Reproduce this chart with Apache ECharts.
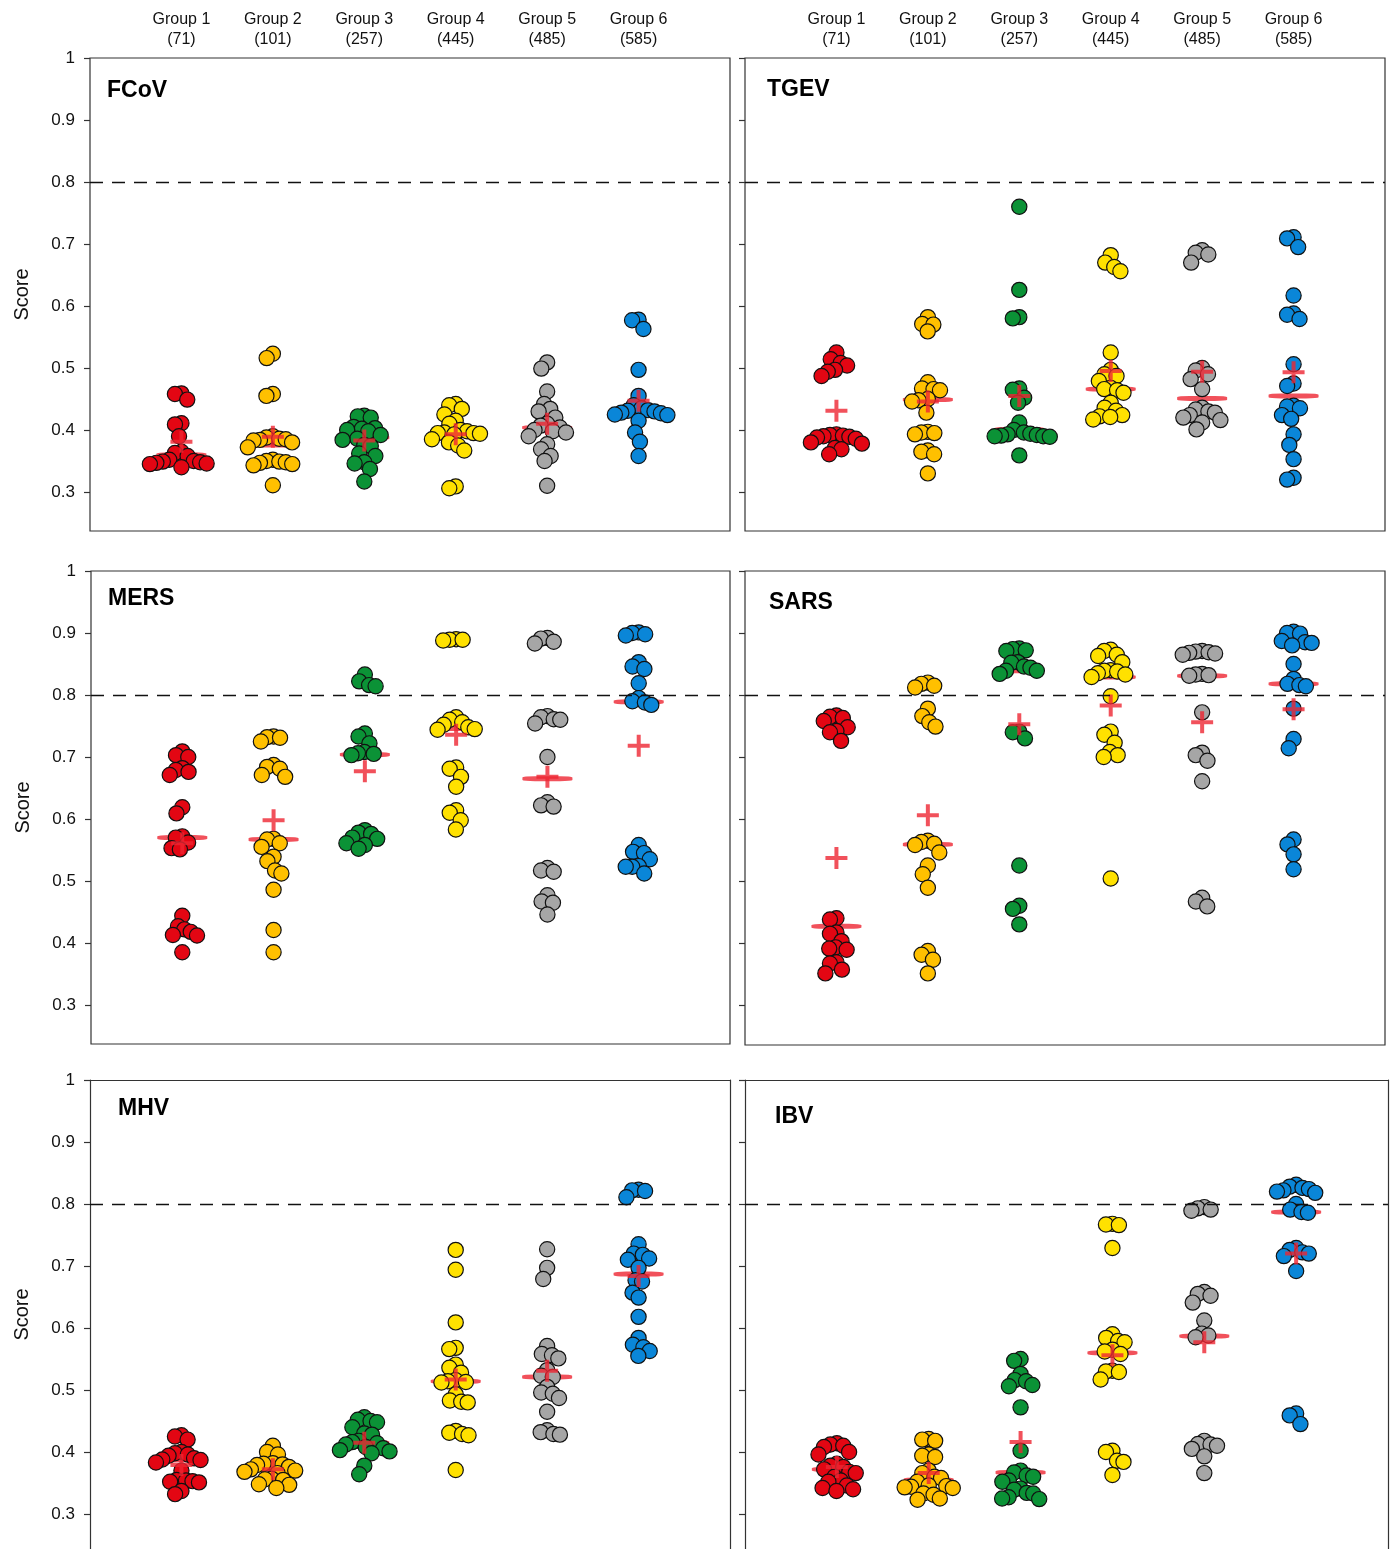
<!DOCTYPE html>
<html>
<head>
<meta charset="utf-8">
<title>Scores by group</title>
<script src="https://cdn.jsdelivr.net/npm/echarts@6/dist/echarts.min.js"></script>
<style>
  html, body { margin: 0; padding: 0; background: #fff; }
  #chart { width: 1394px; height: 1549px; }
</style>
</head>
<body>
<div id="chart"></div>
<script>
// ---- data ----
const groupLabels = ['Group 1', 'Group 2', 'Group 3', 'Group 4', 'Group 5', 'Group 6'];
const groupSizes = [71, 101, 257, 445, 485, 585];
const scoreTicks = [0.3, 0.4, 0.5, 0.6, 0.7, 0.8, 0.9, 1];
const threshold = 0.8;

const fcovScores = [
  [0.459, 0.458, 0.449, 0.411, 0.409, 0.390, 0.365, 0.363, 0.358, 0.352, 0.350, 0.349, 0.348, 0.347, 0.346, 0.345, 0.340],
  [0.523, 0.516, 0.458, 0.455, 0.390, 0.388, 0.386, 0.385, 0.384, 0.383, 0.380, 0.372, 0.352, 0.350, 0.349, 0.348, 0.347, 0.345, 0.343, 0.311],
  [0.423, 0.422, 0.420, 0.405, 0.403, 0.402, 0.400, 0.398, 0.392, 0.386, 0.384, 0.376, 0.374, 0.362, 0.358, 0.348, 0.346, 0.337, 0.317],
  [0.442, 0.440, 0.434, 0.425, 0.415, 0.410, 0.400, 0.398, 0.396, 0.395, 0.395, 0.394, 0.393, 0.385, 0.380, 0.375, 0.367, 0.309, 0.306],
  [0.509, 0.499, 0.462, 0.442, 0.434, 0.430, 0.420, 0.410, 0.407, 0.404, 0.400, 0.398, 0.396, 0.390, 0.377, 0.369, 0.358, 0.350, 0.310],
  [0.578, 0.577, 0.563, 0.497, 0.455, 0.440, 0.435, 0.432, 0.431, 0.430, 0.428, 0.427, 0.425, 0.424, 0.415, 0.396, 0.381, 0.358]
];
const fcovMedians = [0.360, 0.376, 0.388, 0.394, 0.404, 0.431];
const fcovMeans = [0.381, 0.389, 0.383, 0.393, 0.410, 0.447];

const tgevScores = [
  [0.525, 0.514, 0.508, 0.504, 0.497, 0.494, 0.487, 0.393, 0.392, 0.391, 0.390, 0.389, 0.388, 0.386, 0.380, 0.378, 0.371, 0.369, 0.361],
  [0.582, 0.571, 0.570, 0.559, 0.477, 0.467, 0.466, 0.464, 0.450, 0.448, 0.446, 0.428, 0.397, 0.396, 0.395, 0.393, 0.367, 0.365, 0.361, 0.330],
  [0.760, 0.626, 0.582, 0.580, 0.467, 0.465, 0.452, 0.444, 0.412, 0.400, 0.396, 0.394, 0.393, 0.392, 0.391, 0.390, 0.390, 0.389, 0.359],
  [0.682, 0.670, 0.663, 0.656, 0.525, 0.497, 0.490, 0.487, 0.479, 0.468, 0.466, 0.464, 0.460, 0.444, 0.436, 0.431, 0.424, 0.422, 0.421, 0.417],
  [0.690, 0.686, 0.683, 0.670, 0.500, 0.496, 0.490, 0.482, 0.466, 0.436, 0.433, 0.430, 0.428, 0.424, 0.420, 0.416, 0.412, 0.401],
  [0.711, 0.709, 0.695, 0.617, 0.588, 0.586, 0.579, 0.506, 0.475, 0.471, 0.439, 0.438, 0.435, 0.424, 0.418, 0.393, 0.376, 0.353, 0.323, 0.320]
];
const tgevMedians = [0.389, 0.449, 0.401, 0.466, 0.451, 0.455];
const tgevMeans = [0.431, 0.446, 0.455, 0.495, 0.494, 0.493];

const mersScores = [
  [0.709, 0.703, 0.700, 0.682, 0.679, 0.676, 0.671, 0.619, 0.609, 0.572, 0.570, 0.562, 0.553, 0.551, 0.444, 0.427, 0.422, 0.418, 0.413, 0.412, 0.385],
  [0.733, 0.732, 0.731, 0.725, 0.687, 0.684, 0.681, 0.671, 0.668, 0.568, 0.567, 0.561, 0.555, 0.539, 0.532, 0.517, 0.512, 0.486, 0.421, 0.385],
  [0.833, 0.822, 0.816, 0.814, 0.738, 0.733, 0.722, 0.708, 0.706, 0.705, 0.703, 0.582, 0.578, 0.576, 0.570, 0.568, 0.561, 0.558, 0.552],
  [0.890, 0.889, 0.889, 0.888, 0.764, 0.760, 0.756, 0.752, 0.748, 0.745, 0.744, 0.683, 0.681, 0.668, 0.652, 0.614, 0.610, 0.598, 0.583],
  [0.892, 0.891, 0.886, 0.883, 0.766, 0.764, 0.761, 0.760, 0.754, 0.700, 0.627, 0.622, 0.620, 0.521, 0.517, 0.515, 0.477, 0.467, 0.465, 0.446],
  [0.901, 0.900, 0.898, 0.896, 0.853, 0.846, 0.842, 0.819, 0.795, 0.790, 0.788, 0.784, 0.558, 0.547, 0.545, 0.535, 0.524, 0.523, 0.523, 0.512]
];
const mersMedians = [0.570, 0.567, 0.704, 0.746, 0.665, 0.789];
const mersMeans = [0.561, 0.598, 0.677, 0.736, 0.668, 0.718];

const sarsScores = [
  [0.767, 0.765, 0.763, 0.758, 0.748, 0.742, 0.740, 0.726, 0.440, 0.438, 0.417, 0.415, 0.403, 0.393, 0.391, 0.389, 0.369, 0.367, 0.357, 0.351],
  [0.820, 0.818, 0.815, 0.812, 0.778, 0.766, 0.756, 0.749, 0.565, 0.563, 0.560, 0.558, 0.546, 0.525, 0.511, 0.489, 0.387, 0.381, 0.373, 0.351],
  [0.875, 0.874, 0.872, 0.871, 0.853, 0.852, 0.846, 0.844, 0.839, 0.839, 0.834, 0.741, 0.740, 0.730, 0.525, 0.460, 0.455, 0.430],
  [0.873, 0.871, 0.865, 0.863, 0.853, 0.840, 0.839, 0.838, 0.835, 0.833, 0.829, 0.798, 0.741, 0.736, 0.723, 0.708, 0.703, 0.700, 0.504],
  [0.871, 0.870, 0.869, 0.868, 0.867, 0.865, 0.834, 0.833, 0.832, 0.831, 0.772, 0.707, 0.703, 0.694, 0.661, 0.473, 0.467, 0.459],
  [0.902, 0.900, 0.899, 0.887, 0.885, 0.884, 0.880, 0.850, 0.826, 0.818, 0.816, 0.814, 0.778, 0.729, 0.714, 0.567, 0.559, 0.543, 0.519]
];
const sarsMedians = [0.427, 0.559, 0.839, 0.829, 0.831, 0.818];
const sarsMeans = [0.537, 0.606, 0.753, 0.783, 0.756, 0.777];

const mhvScores = [
  [0.427, 0.425, 0.420, 0.400, 0.398, 0.396, 0.394, 0.390, 0.388, 0.387, 0.383, 0.370, 0.355, 0.354, 0.353, 0.352, 0.351, 0.337, 0.332],
  [0.410, 0.400, 0.396, 0.382, 0.381, 0.380, 0.379, 0.376, 0.372, 0.370, 0.368, 0.366, 0.357, 0.356, 0.355, 0.348, 0.347, 0.342],
  [0.456, 0.452, 0.450, 0.448, 0.440, 0.430, 0.428, 0.418, 0.416, 0.414, 0.412, 0.408, 0.406, 0.403, 0.401, 0.398, 0.378, 0.364],
  [0.726, 0.694, 0.609, 0.568, 0.566, 0.541, 0.536, 0.528, 0.516, 0.514, 0.513, 0.512, 0.493, 0.483, 0.481, 0.480, 0.434, 0.431, 0.429, 0.427, 0.371],
  [0.727, 0.697, 0.679, 0.571, 0.558, 0.556, 0.551, 0.532, 0.523, 0.521, 0.505, 0.496, 0.494, 0.487, 0.465, 0.435, 0.432, 0.429, 0.428],
  [0.823, 0.822, 0.821, 0.811, 0.735, 0.720, 0.718, 0.712, 0.710, 0.697, 0.677, 0.675, 0.657, 0.649, 0.618, 0.584, 0.573, 0.569, 0.563, 0.555]
];
const mhvMedians = [0.387, 0.373, 0.415, 0.514, 0.521, 0.687];
const mhvMeans = [0.379, 0.372, 0.415, 0.517, 0.531, 0.684];

const ibvScores = [
  [0.414, 0.412, 0.410, 0.408, 0.400, 0.396, 0.381, 0.378, 0.376, 0.372, 0.368, 0.366, 0.360, 0.354, 0.352, 0.346, 0.342, 0.340, 0.337],
  [0.421, 0.420, 0.418, 0.396, 0.394, 0.392, 0.370, 0.366, 0.360, 0.358, 0.352, 0.346, 0.345, 0.344, 0.343, 0.342, 0.333, 0.331, 0.325, 0.323],
  [0.550, 0.547, 0.526, 0.516, 0.514, 0.508, 0.506, 0.472, 0.402, 0.370, 0.367, 0.362, 0.360, 0.354, 0.352, 0.341, 0.339, 0.334, 0.333, 0.327, 0.325, 0.324],
  [0.768, 0.767, 0.766, 0.729, 0.590, 0.584, 0.579, 0.577, 0.565, 0.562, 0.558, 0.531, 0.530, 0.529, 0.517, 0.402, 0.400, 0.386, 0.384, 0.363],
  [0.795, 0.793, 0.791, 0.789, 0.658, 0.655, 0.652, 0.641, 0.612, 0.591, 0.588, 0.585, 0.418, 0.413, 0.412, 0.410, 0.405, 0.393, 0.366],
  [0.831, 0.828, 0.826, 0.824, 0.822, 0.820, 0.818, 0.800, 0.791, 0.787, 0.786, 0.729, 0.726, 0.722, 0.720, 0.716, 0.692, 0.462, 0.459, 0.445]
];
const ibvMedians = [0.372, 0.355, 0.367, 0.560, 0.587, 0.787];
const ibvMeans = [0.376, 0.366, 0.416, 0.556, 0.577, 0.720];

// ---- appearance ----
const groupColors = ['#E30613', '#FFC000', '#0B9236', '#FFE100', '#A6A6A6', '#0A86D8'];
const markRed = '#EE2632';
const frameColor = '#333';
const FONT = '"Liberation Sans", Arial, sans-serif';
const DOT_R = 7.6;        // dot radius in px
const SWARM_DX = 6.5;     // horizontal spacing of dots sharing a score, px
const SWARM_DY = 14;      // vertical distance below which dots are pushed apart, px
const PX_PER_UNIT = 620;  // vertical pixels per 1.0 of score in every panel

const panels = [
  { name: 'FCoV', scores: fcovScores, medians: fcovMedians, means: fcovMeans,
    grid: { left: 90, top: 58, width: 640, height: 473 }, title: [107, 79], col: 0, row: 0 },
  { name: 'TGEV', scores: tgevScores, medians: tgevMedians, means: tgevMeans,
    grid: { left: 745, top: 58, width: 640, height: 473 }, title: [767, 78], col: 1, row: 0 },
  { name: 'MERS', scores: mersScores, medians: mersMedians, means: mersMeans,
    grid: { left: 91, top: 571, width: 639, height: 473 }, title: [108, 587], col: 0, row: 1 },
  { name: 'SARS', scores: sarsScores, medians: sarsMedians, means: sarsMeans,
    grid: { left: 745, top: 571, width: 640, height: 474 }, title: [769, 591], col: 1, row: 1 },
  // the bottom row runs off the lower edge of the page, so it has no bottom frame line
  { name: 'MHV', scores: mhvScores, medians: mhvMedians, means: mhvMeans,
    grid: { left: 90, top: 1080, width: 640, height: 469 }, title: [118, 1097], col: 0, row: 2 },
  { name: 'IBV', scores: ibvScores, medians: ibvMedians, means: ibvMeans,
    grid: { left: 745, top: 1080, width: 643, height: 469 }, title: [775, 1105], col: 1, row: 2 }
];

// Beeswarm layout: horizontal pixel offsets so that dots at similar scores spread sideways.
// Two dots may not be closer than an ellipse with half-axes SWARM_DX (across) and SWARM_DY (down).
function swarmOffsets(values, pxPerUnit) {
  const order = values.map((v, i) => i).sort((a, b) => values[b] - values[a]);
  const placed = [];
  const offsets = new Array(values.length).fill(0);
  order.forEach(i => {
    const y = -values[i] * pxPerUnit;
    const blocks = [];
    placed.forEach(q => {
      const t = (y - q.y) / SWARM_DY;
      if (Math.abs(t) < 1) {
        const dx = SWARM_DX * Math.sqrt(1 - t * t);
        blocks.push([q.x - dx, q.x + dx]);
      }
    });
    const candidates = [0];
    blocks.forEach(b => candidates.push(b[0], b[1]));
    candidates.sort((a, b) => Math.abs(a) - Math.abs(b) || a - b);
    let x = 0;
    for (const c of candidates) {
      if (blocks.every(b => c <= b[0] + 1e-6 || c >= b[1] - 1e-6)) { x = c; break; }
    }
    placed.push({ x: x, y: y });
    offsets[i] = x;
  });
  return offsets;
}

function dotRenderer(values, color) {
  let cacheKey = null, offsets = null;
  return function (params, api) {
    const pxPerUnit = api.size([0, 1])[1];
    if (cacheKey !== pxPerUnit) {
      offsets = swarmOffsets(values, pxPerUnit);
      cacheKey = pxPerUnit;
    }
    const p = api.coord([api.value(0), api.value(1)]);
    return {
      type: 'circle',
      shape: { cx: p[0] + offsets[params.dataIndex], cy: p[1], r: DOT_R },
      style: { fill: color, stroke: '#111', lineWidth: 1.2 }
    };
  };
}

const grids = [], xAxes = [], yAxes = [], titles = [], series = [];
const frameAxes = [];
const plusPath = 'path://M0,9H9V0h4v9h9v4H13v9H9V13H0z';
const frameLine = { show: true, lineStyle: { color: frameColor, width: 1.2 } };

panels.forEach((pn, k) => {
  const openBottom = pn.row === 2;
  const yMin = 1 - pn.grid.height / PX_PER_UNIT;

  grids.push(Object.assign({ show: !openBottom, borderColor: frameColor, borderWidth: 1.2,
    backgroundColor: 'transparent', containLabel: false }, pn.grid));

  xAxes.push({
    gridIndex: k, type: 'value', min: 0, max: 7,
    position: 'top',
    axisLine: openBottom ? frameLine : { show: false },
    axisTick: { show: false }, splitLine: { show: false },
    axisLabel: {
      show: pn.row === 0,
      customValues: [1, 2, 3, 4, 5, 6],
      formatter: v => groupLabels[v - 1] + '\n(' + groupSizes[v - 1] + ')',
      fontFamily: FONT, fontSize: 16, color: '#111', lineHeight: 20, margin: 8
    }
  });

  yAxes.push({
    gridIndex: k, type: 'value', min: yMin, max: 1,
    axisLine: openBottom ? frameLine : { show: false },
    splitLine: { show: false },
    axisTick: { show: true, customValues: scoreTicks, length: 6, inside: false,
      lineStyle: { color: frameColor, width: 1.2 } },
    axisLabel: {
      show: pn.col === 0, customValues: scoreTicks,
      formatter: v => String(Math.round(v * 10) / 10),
      fontFamily: FONT, fontSize: 17, color: '#111', margin: 15
    },
    name: pn.col === 0 ? 'Score' : '',
    nameLocation: 'middle', nameGap: 58, nameRotate: 90,
    nameTextStyle: { fontFamily: FONT, fontSize: 20, color: '#111' }
  });

  if (openBottom) {
    // right-hand frame edge for the open-bottom panels
    frameAxes.push({
      gridIndex: k, type: 'value', min: yMin, max: 1, position: 'right',
      axisLine: frameLine, axisTick: { show: false }, axisLabel: { show: false },
      splitLine: { show: false }
    });
  }

  titles.push({
    text: pn.name, left: pn.title[0], top: pn.title[1], padding: 0,
    textStyle: { fontFamily: FONT, fontSize: 23, fontWeight: 'bold', color: '#000' }
  });

  // medians (under the dots), with the 0.8 reference line
  series.push({
    type: 'scatter', xAxisIndex: k, yAxisIndex: k, z: 2,
    symbol: 'roundRect', symbolSize: [50, 5], silent: true,
    itemStyle: { color: markRed },
    data: pn.medians.map((m, g) => [g + 1, m]),
    markLine: {
      silent: true, symbol: ['none', 'none'], label: { show: false },
      lineStyle: { color: '#111', type: [13, 9], width: 1.3 },
      data: [{ yAxis: threshold }]
    }
  });

  // dots per group
  pn.scores.forEach((vals, g) => {
    series.push({
      type: 'custom', xAxisIndex: k, yAxisIndex: k, z: 3, silent: true,
      renderItem: dotRenderer(vals, groupColors[g]),
      data: vals.map(v => [g + 1, v]),
      encode: { x: 0, y: 1 }
    });
  });

  // means (on top)
  series.push({
    type: 'scatter', xAxisIndex: k, yAxisIndex: k, z: 4,
    symbol: plusPath, symbolSize: 22, silent: true,
    itemStyle: { color: markRed },
    data: pn.means.map((m, g) => [g + 1, m])
  });
});

const chart = echarts.init(document.getElementById('chart'), null, { renderer: 'canvas' });
chart.setOption({
  animation: false,
  backgroundColor: '#fff',
  title: titles,
  grid: grids,
  xAxis: xAxes,
  yAxis: yAxes.concat(frameAxes),
  series: series
});
</script>
</body>
</html>
